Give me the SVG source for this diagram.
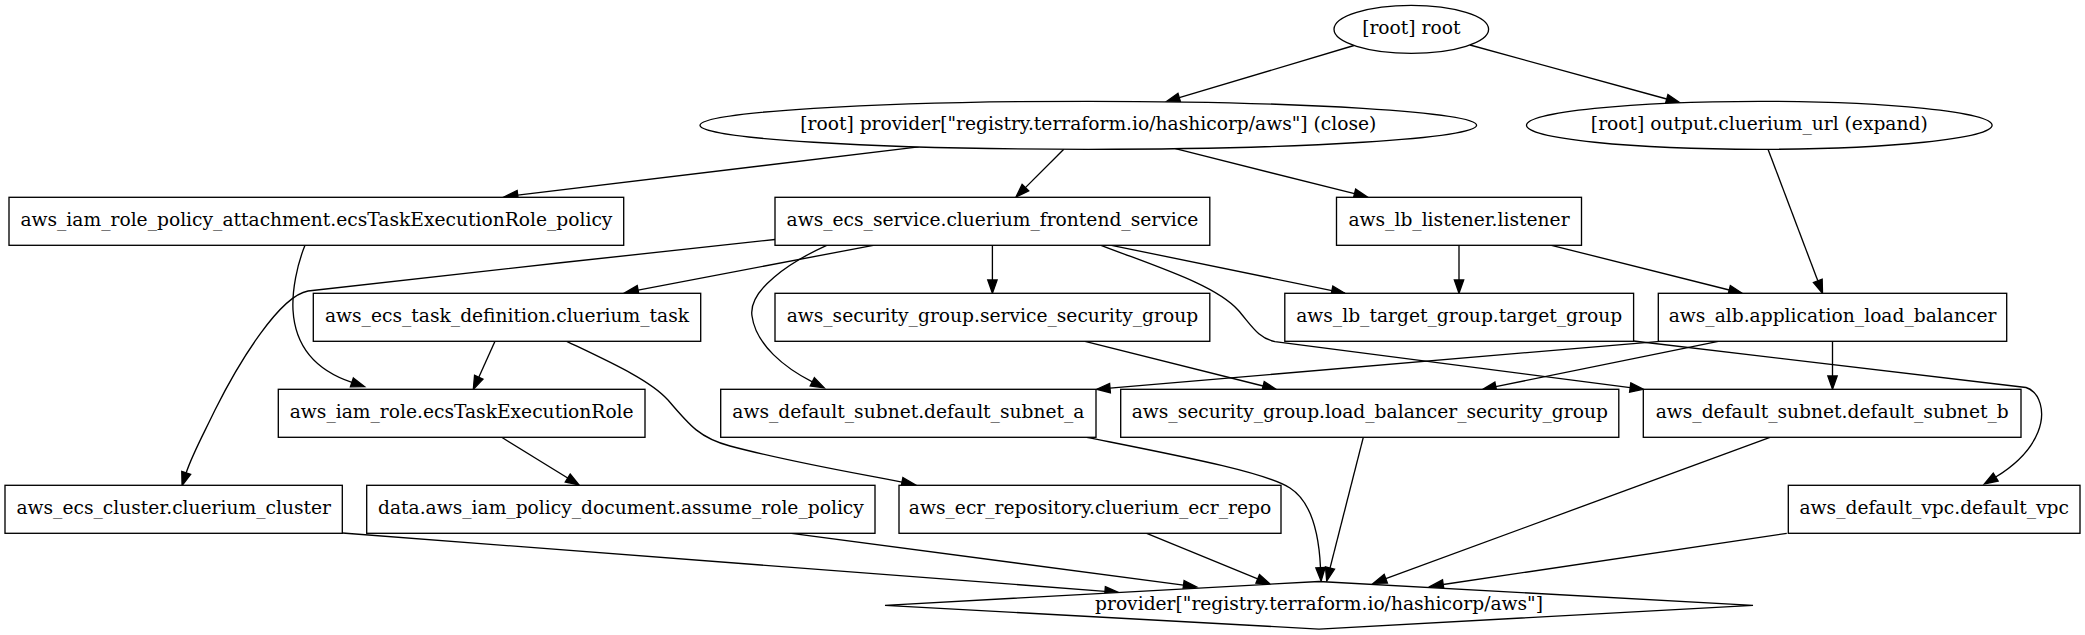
<svg xmlns="http://www.w3.org/2000/svg" width="2085" height="635" viewBox="0 0 2085 635">
<style>
.n{fill:#fff;stroke:#000;stroke-width:1.33}
.e{fill:none;stroke:#000;stroke-width:1.33;marker-end:url(#ah)}
</style>
<defs>
<marker id="ah" markerUnits="userSpaceOnUse" markerWidth="16" markerHeight="12" refX="0" refY="4.67" orient="auto" overflow="visible">
<path d="M0,0 L13.33,4.67 L0,9.33 Z" fill="#000" stroke="#000" stroke-width="1.33"/>
</marker>
</defs>
<rect width="2085" height="635" fill="#fff"/>
<g id="connectors">
<path class="e" d="M1354,45.5 L1179.3,97.7"/>
<path class="e" d="M1470,45 L1666.7,99"/>
<path class="e" d="M918.7,146.9 L517.7,195.1"/>
<path class="e" d="M1063.8,149.2 L1025.4,187.6"/>
<path class="e" d="M1175.4,148.7 L1354.5,193.7"/>
<path class="e" d="M1768,149.3 L1817.8,280.8"/>
<path class="e" d="M1459,245.3 L1459,280"/>
<path class="e" d="M1551.5,245.3 L1729.2,290"/>
<path class="e" d="M992.4,245.3 L992.4,280"/>
<path class="e" d="M1111.5,245.3 L1331.9,290.6"/>
<path class="e" d="M873.3,245.3 L638.1,290.2"/>
<path class="e" d="M775,239.5 C650,253 400,280 308,291 C280,296 240,360 215,410 C203,435 192,455 186.2,472.8"/>
<path class="e" d="M826.7,245.3 C790,262 748,290 752,316 C756,345 785,368 812.3,381.8"/>
<path class="e" d="M1101,245.3 C1160,268 1215,285 1238,310 C1252,326 1258,338 1275,341.7 L1630.2,387.6"/>
<path class="e" d="M1633.6,341 L2026,387.5 C2040,392 2046,412 2038,432 C2030,452 2012,467 1995.7,477"/>
<path class="e" d="M1660,341.3 L1110,388.1"/>
<path class="e" d="M1718.3,341.3 L1495.8,386.7"/>
<path class="e" d="M1832.5,341.3 L1832.5,376"/>
<path class="e" d="M1085,341.3 L1263.1,386"/>
<path class="e" d="M495,341.3 L478.8,377.2"/>
<path class="e" d="M566.7,341.3 C610,362 650,380 668,400 C690,426 700,438 730,446 C790,462 850,472 902,482.1"/>
<path class="e" d="M305,245.3 C297,265 292,290 293,310 C295,345 315,370 351.9,382.4"/>
<path class="e" d="M501.7,437.3 L567.7,478"/>
<path class="e" d="M342.4,533 L1105,591.3"/>
<path class="e" d="M791.5,533.3 L1183.5,585.2"/>
<path class="e" d="M1146.7,533.3 L1257.7,578.9"/>
<path class="e" d="M1086.7,437.3 C1180,456 1265,472 1290,488 C1312,502 1319,535 1320.5,567.7"/>
<path class="e" d="M1363.3,437.3 L1330,568.1"/>
<path class="e" d="M1770,437.3 L1385.8,578.7"/>
<path class="e" d="M1786.8,533.3 L1443.2,584.5"/>
</g>
<g font-family="DejaVu Serif, Liberation Serif, serif" font-size="18.67" text-anchor="middle" fill="#000">
<g id="root"><ellipse class="n" cx="1411.3" cy="29.3" rx="77.3" ry="24"/><text x="1411.3" y="34.3">[root] root</text></g>
<g id="provider_close"><ellipse class="n" cx="1088.3" cy="125.3" rx="388.3" ry="24"/><text x="1088.3" y="130.3">[root] provider["registry.terraform.io/hashicorp/aws"] (close)</text></g>
<g id="output_url"><ellipse class="n" cx="1759.3" cy="125.3" rx="232.8" ry="24"/><text x="1759.3" y="130.3">[root] output.cluerium_url (expand)</text></g>
<g id="iam_attachment"><rect class="n" x="9" y="197.3" width="614.7" height="48"/><text x="316.4" y="226.3">aws_iam_role_policy_attachment.ecsTaskExecutionRole_policy</text></g>
<g id="ecs_service"><rect class="n" x="775" y="197.3" width="434.8" height="48"/><text x="992.4" y="226.3">aws_ecs_service.cluerium_frontend_service</text></g>
<g id="lb_listener"><rect class="n" x="1336.5" y="197.3" width="245" height="48"/><text x="1459" y="226.3">aws_lb_listener.listener</text></g>
<g id="task_def"><rect class="n" x="313.3" y="293.3" width="387.4" height="48"/><text x="507" y="322.3">aws_ecs_task_definition.cluerium_task</text></g>
<g id="service_sg"><rect class="n" x="775" y="293.3" width="434.8" height="48"/><text x="992.4" y="322.3">aws_security_group.service_security_group</text></g>
<g id="target_group"><rect class="n" x="1284.8" y="293.3" width="348.8" height="48"/><text x="1459.2" y="322.3">aws_lb_target_group.target_group</text></g>
<g id="alb"><rect class="n" x="1658.3" y="293.3" width="348.4" height="48"/><text x="1832.5" y="322.3">aws_alb.application_load_balancer</text></g>
<g id="iam_role"><rect class="n" x="278.3" y="389.3" width="366.7" height="48"/><text x="461.7" y="418.3">aws_iam_role.ecsTaskExecutionRole</text></g>
<g id="subnet_a"><rect class="n" x="720.7" y="389.3" width="375.3" height="48"/><text x="908.4" y="418.3">aws_default_subnet.default_subnet_a</text></g>
<g id="lb_sg"><rect class="n" x="1120.7" y="389.3" width="498.1" height="48"/><text x="1369.8" y="418.3">aws_security_group.load_balancer_security_group</text></g>
<g id="subnet_b"><rect class="n" x="1643.3" y="389.3" width="377.7" height="48"/><text x="1832.2" y="418.3">aws_default_subnet.default_subnet_b</text></g>
<g id="ecs_cluster"><rect class="n" x="5" y="485.3" width="337.3" height="48"/><text x="173.7" y="514.3">aws_ecs_cluster.cluerium_cluster</text></g>
<g id="data_policy"><rect class="n" x="366.7" y="485.3" width="508.3" height="48"/><text x="620.9" y="514.3">data.aws_iam_policy_document.assume_role_policy</text></g>
<g id="ecr_repo"><rect class="n" x="899" y="485.3" width="382" height="48"/><text x="1090" y="514.3">aws_ecr_repository.cluerium_ecr_repo</text></g>
<g id="default_vpc"><rect class="n" x="1788.3" y="485.3" width="291.7" height="48"/><text x="1934.2" y="514.3">aws_default_vpc.default_vpc</text></g>
<g id="provider"><polygon class="n" points="1319,581.5 1753,605.3 1319,629.1 885,605.3"/><text x="1319" y="610.3">provider["registry.terraform.io/hashicorp/aws"]</text></g>
</g>
</svg>
